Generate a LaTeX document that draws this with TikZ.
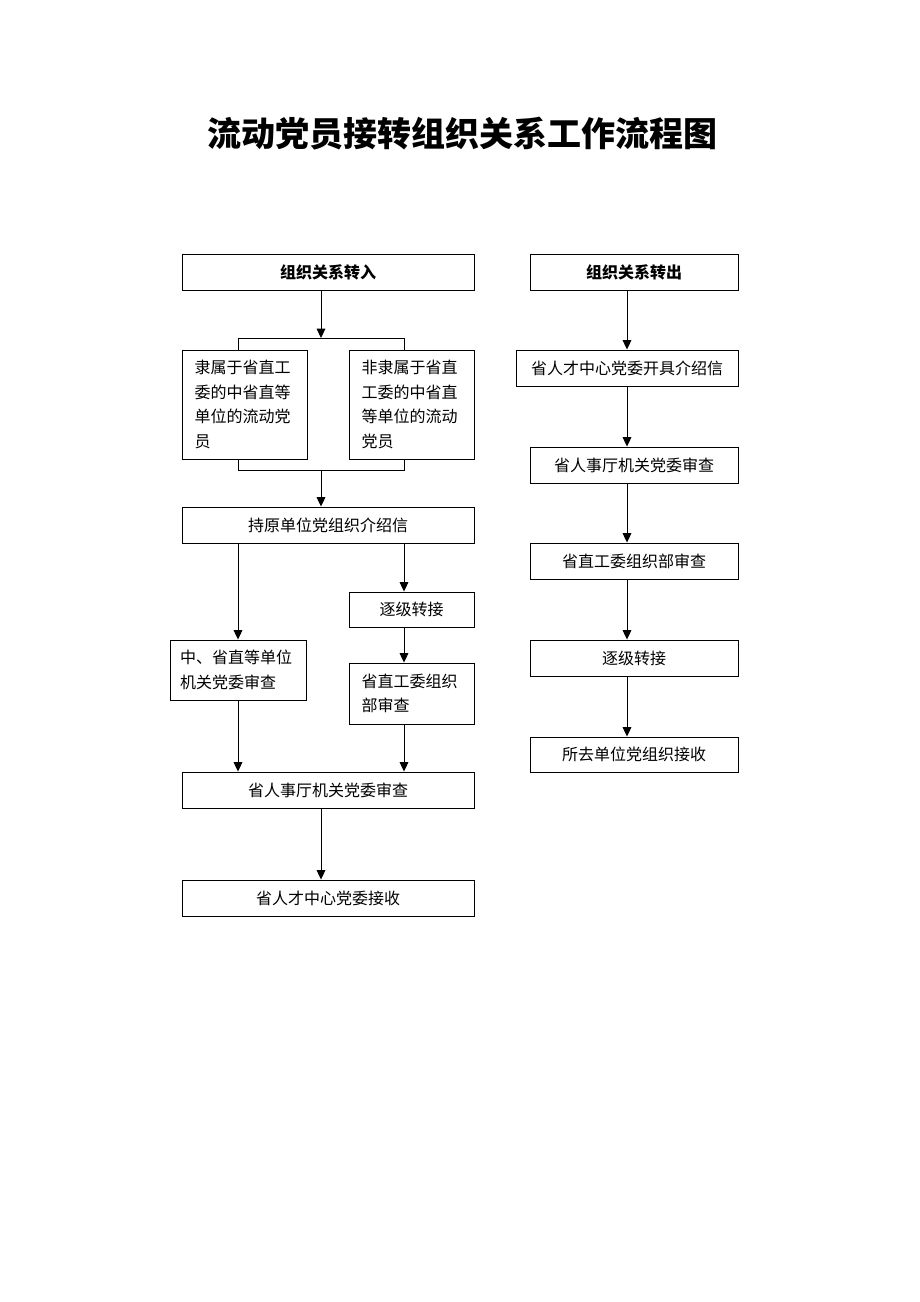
\documentclass[tikz,border=0pt]{standalone}
\usepackage{fontspec}
\setmainfont{Noto Sans CJK SC}
\usetikzlibrary{arrows.meta}
\begin{document}
\begin{tikzpicture}[x=0.75pt,y=-0.75pt,
  box/.style={draw, line width=0.7pt, inner sep=0pt, font={\fontsize{12pt}{18.5pt}\selectfont}},
  wbox/.style={box, minimum width=219pt, minimum height=27pt},
  hbox/.style={box, minimum height=27pt, font={\fontsize{12pt}{18.5pt}\selectfont\bfseries}},
  rbox/.style={box, minimum width=156pt, minimum height=27pt},
  sbox/.style={box, minimum width=93.75pt, text width=75pt, align=left},
  conn/.style={line width=0.7pt},
  arr/.style={conn, -{Triangle[length=7pt,width=6.5pt]}}]
\useasboundingbox (0,0) rectangle (920,1302);
\fill[white] (0,0) rectangle (920,1302);

\node[font={\fontsize{25.5pt}{28pt}\selectfont\bfseries}] (title) at (462,134) {流动党员接转组织关系工作流程图};

% left column
\node[hbox, minimum width=219pt] (in) at (328,272) {组织关系转入};
\node[sbox, minimum height=81.75pt] (A) at (244.5,404.5) {隶属于省直工\\委的中省直等\\单位的流动党\\员};
\node[sbox, minimum height=81.75pt] (B) at (411.5,404.5) {非隶属于省直\\工委的中省直\\等单位的流动\\党员};
\node[wbox] (hold) at (328,525) {持原单位党组织介绍信};
\node[box, minimum width=93.75pt, minimum height=26.25pt] (zj) at (411.5,609.5) {逐级转接};
\node[box, minimum width=102pt, minimum height=45pt, text width=87pt, align=left] (zh) at (238,670) {中、省直等单位\\机关党委审查};
\node[sbox, minimum height=45.75pt] (sz) at (411.5,693.5) {省直工委组织\\部审查};
\node[wbox] (rs) at (328,790) {省人事厅机关党委审查};
\node[wbox] (rc) at (328,898) {省人才中心党委接收};

% right column
\node[hbox, minimum width=156pt] (out) at (634,272) {组织关系转出};
\node[box, minimum width=166.5pt, minimum height=27pt] (r1) at (627,368) {省人才中心党委开具介绍信};
\node[rbox] (r2) at (634,465) {省人事厅机关党委审查};
\node[rbox] (r3) at (634,561) {省直工委组织部审查};
\node[rbox] (r4) at (634,658) {逐级转接};
\node[rbox, minimum height=26.25pt] (r5) at (634,754.5) {所去单位党组织接收};

% junction coordinates
\coordinate (jM) at (321,338);
\coordinate (jL) at (238,338);
\coordinate (jR) at (404,338);
\coordinate (kM) at (321,470);
\coordinate (kL) at (238,470);
\coordinate (kR) at (404,470);

% left connectors
\draw[arr] (in.south -| jM) -- (jM);
\draw[conn] (jL |- A.north) -- (jL) -- (jR) -- (jR |- B.north);
\draw[conn] (A.south -| kL) -- (kL) -- (kR) -- (B.south -| kR);
\draw[arr] (kM) -- (kM |- hold.north);
\draw[arr] (hold.south -| zh) -- (zh.north);
\draw[arr] (hold.south -| kR) -- (kR |- zj.north);
\draw[arr] (zj.south -| kR) -- (kR |- sz.north);
\draw[arr] (zh.south) -- (zh.south |- rs.north);
\draw[arr] (sz.south -| kR) -- (kR |- rs.north);
\draw[arr] (rs.south -| kM) -- (kM |- rc.north);

% right connectors
\draw[arr] (out.south -| r1) -- (r1.north);
\draw[arr] (r1.south) -- (r1.south |- r2.north);
\draw[arr] (r2.south -| r1) -- (r1.south |- r3.north);
\draw[arr] (r3.south -| r1) -- (r1.south |- r4.north);
\draw[arr] (r4.south -| r1) -- (r1.south |- r5.north);
\end{tikzpicture}
\end{document}
